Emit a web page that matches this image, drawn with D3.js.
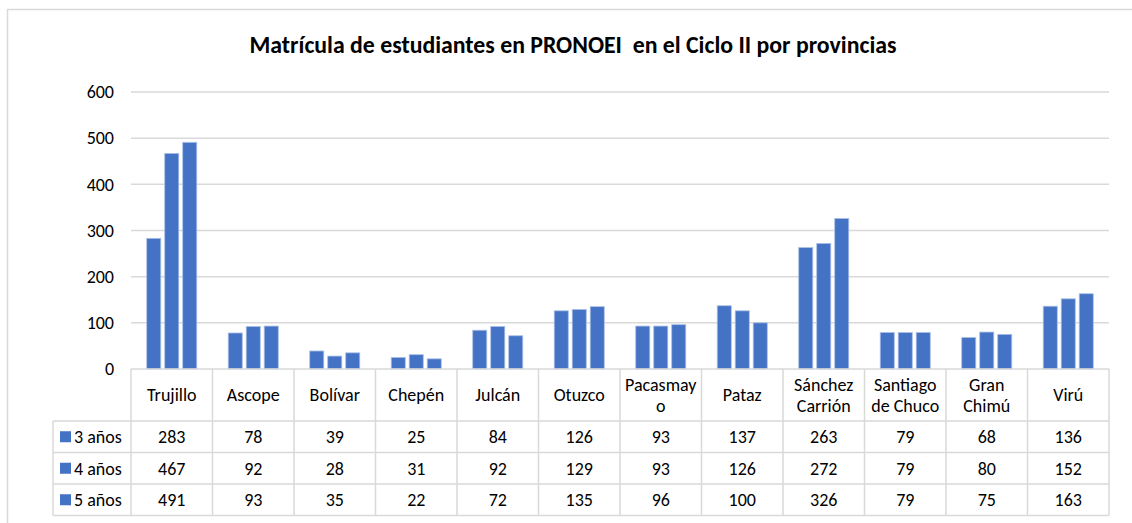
<!DOCTYPE html>
<html>
<head>
<meta charset="utf-8">
<script src="https://cdn.jsdelivr.net/npm/d3@7"></script>
<style>
  body { margin: 0; background: #fff; }
  svg { font-family: Carlito, Lato, "Open Sans", sans-serif; }
</style>
</head>
<body>
<svg id="chart" width="1132" height="523"></svg>
<script>
// provinces, header text split on lines as in the original table
var provincias = ["Trujillo", "Ascope", "Bolívar", "Chepén", "Julcán", "Otuzco",
  "Pacasmayo", "Pataz", "Sánchez Carrión", "Santiago de Chuco", "Gran Chimú", "Virú"];
var etiquetas = [["Trujillo"], ["Ascope"], ["Bolívar"], ["Chepén"], ["Julcán"], ["Otuzco"],
  ["Pacasmay", "o"], ["Pataz"], ["Sánchez", "Carrión"], ["Santiago", "de Chuco"], ["Gran", "Chimú"], ["Virú"]];

var series = ["3 años", "4 años", "5 años"];
var anios3 = [283, 78, 39, 25, 84, 126, 93, 137, 263, 79, 68, 136];
var anios4 = [467, 92, 28, 31, 92, 129, 93, 126, 272, 79, 80, 152];
var anios5 = [491, 93, 35, 22, 72, 135, 96, 100, 326, 79, 75, 163];
var valores = [anios3, anios4, anios5];

var yTicks = [0, 100, 200, 300, 400, 500, 600];

var azul = "#4472C4", gris = "#d9d9d9";
var fs = "18px";

var svg = d3.select("#chart");

// outer frame
svg.append("rect")
  .attr("x", 7.5).attr("y", 9.5).attr("width", 1140).attr("height", 530)
  .attr("fill", "none").attr("stroke", gris).attr("stroke-width", 1.5);

svg.append("text")
  .attr("x", 573).attr("y", 53)
  .attr("text-anchor", "middle")
  .style("font-size", "23.8px").style("font-weight", "bold")
  .attr("fill", "#000")
  .attr("xml:space", "preserve")
  .text("Matrícula de estudiantes en PRONOEI  en el Ciclo II por provincias");

var plotLeft = 131, plotRight = 1109, plotTop = 92, plotBottom = 369;

var x = d3.scaleBand().domain(provincias).range([plotLeft, plotRight]).padding(0);
var y = d3.scaleLinear().domain([0, 600]).range([plotBottom, plotTop]);

// gridlines
svg.append("g").selectAll("line")
  .data(yTicks.filter(d => d > 0))
  .enter().append("line")
  .attr("x1", plotLeft).attr("x2", plotRight)
  .attr("y1", d => y(d)).attr("y2", d => y(d))
  .attr("stroke", gris).attr("stroke-width", 1.5);

// y axis labels
var yAxis = d3.axisLeft(y).tickValues(yTicks).tickSize(0).tickPadding(17);
var gy = svg.append("g").attr("transform", "translate(" + plotLeft + ",0)").call(yAxis);
gy.select(".domain").remove();
gy.selectAll("text").style("font-size", fs).attr("fill", "#000")
  .style("font-family", "Carlito, Lato, 'Open Sans', sans-serif");

// bars
var inner = d3.scaleBand().domain(series).range([0, x.bandwidth()]).paddingInner(0.22).paddingOuter(0.875);
series.forEach(function (s, i) {
  svg.append("g").selectAll("rect")
    .data(valores[i])
    .enter().append("rect")
    .attr("x", (d, j) => x(provincias[j]) + inner(s))
    .attr("y", d => y(d))
    .attr("width", inner.bandwidth())
    .attr("height", d => plotBottom - y(d))
    .attr("fill", azul)
    .attr("stroke", "#a9bfe6").attr("stroke-width", 0.8);
});

// data table
var headerBottom = 421;
var rowH = 31.5;
var tableBottom = headerBottom + rowH * 3;
var legendLeft = 53;
var tbl = svg.append("g").attr("stroke", gris).attr("stroke-width", 1.5);

// horizontal lines
tbl.append("line").attr("x1", plotLeft).attr("x2", plotRight).attr("y1", plotBottom).attr("y2", plotBottom);
[0, 1, 2, 3].forEach(function (r) {
  tbl.append("line").attr("x1", legendLeft).attr("x2", plotRight)
    .attr("y1", headerBottom + r * rowH).attr("y2", headerBottom + r * rowH);
});
// vertical lines
provincias.forEach(function (p) {
  tbl.append("line").attr("x1", x(p)).attr("x2", x(p)).attr("y1", plotBottom).attr("y2", tableBottom);
});
tbl.append("line").attr("x1", plotRight).attr("x2", plotRight).attr("y1", plotBottom).attr("y2", tableBottom);
tbl.append("line").attr("x1", legendLeft).attr("x2", legendLeft).attr("y1", headerBottom).attr("y2", tableBottom);

// header text
etiquetas.forEach(function (lines, j) {
  var cx = x(provincias[j]) + x.bandwidth() / 2;
  var t = svg.append("text").attr("text-anchor", "middle")
    .style("font-size", fs).attr("fill", "#000");
  var y0 = lines.length === 1 ? 401 : 391;
  lines.forEach(function (ln, k) {
    t.append("tspan").attr("x", cx).attr("y", y0 + k * 21).text(ln);
  });
});

// rows
series.forEach(function (s, i) {
  var cy = headerBottom + i * rowH + rowH / 2;
  svg.append("rect").attr("x", 60).attr("y", cy - 5.5).attr("width", 11).attr("height", 11).attr("fill", azul);
  svg.append("text").attr("x", 74).attr("y", cy + 6.5)
    .style("font-size", fs).attr("fill", "#000").text(s);
  svg.append("g").selectAll("text")
    .data(valores[i])
    .enter().append("text")
    .attr("x", (d, j) => x(provincias[j]) + x.bandwidth() / 2)
    .attr("y", cy + 6.5)
    .attr("text-anchor", "middle")
    .style("font-size", fs).attr("fill", "#000")
    .text(d => d);
});
</script>
</body>
</html>
